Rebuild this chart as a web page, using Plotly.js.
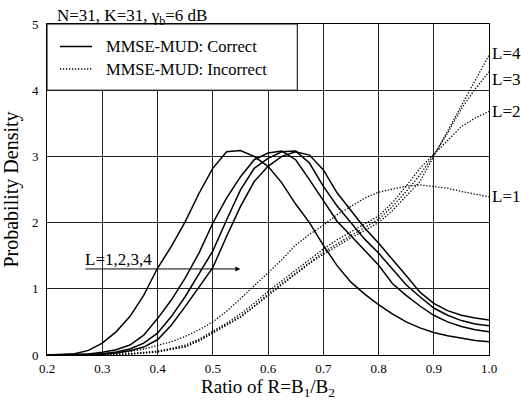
<!DOCTYPE html>
<html><head><meta charset="utf-8">
<script src="https://cdn.plot.ly/plotly-3.0.1.min.js"></script>
<style>html,body{margin:0;padding:0;background:#fff}</style>
</head><body><div id="chart" style="width:521px;height:401px"></div>
<script>
const ratio = [0.2,0.225,0.25,0.275,0.3,0.325,0.35,0.375,0.4,0.425,0.45,0.475,0.5,0.525,0.55,0.575,0.6,0.625,0.65,0.675,0.7,0.725,0.75,0.775,0.8,0.825,0.85,0.875,0.9,0.925,0.95,0.975,1.0];

const correctL1 = [0.00,0.005,0.02,0.07,0.18,0.35,0.58,0.90,1.31,1.64,2.01,2.44,2.82,3.07,3.09,3.00,2.85,2.60,2.28,2.00,1.66,1.35,1.10,0.92,0.76,0.62,0.50,0.41,0.34,0.29,0.25,0.22,0.20];
const correctL2 = [0.00,0.00,0.005,0.015,0.04,0.08,0.15,0.30,0.55,0.83,1.16,1.54,1.99,2.37,2.69,2.95,3.05,3.08,2.95,2.65,2.34,2.02,1.80,1.58,1.36,1.08,0.90,0.74,0.60,0.50,0.43,0.38,0.35];
const correctL3 = [0.00,0.00,0.003,0.01,0.02,0.045,0.09,0.18,0.33,0.58,0.88,1.23,1.57,2.04,2.49,2.82,2.97,3.07,3.08,2.90,2.55,2.25,2.00,1.75,1.54,1.30,1.06,0.88,0.71,0.60,0.52,0.47,0.44];
const correctL4 = [0.00,0.00,0.002,0.006,0.012,0.03,0.065,0.12,0.23,0.45,0.73,1.03,1.32,1.79,2.24,2.62,2.85,3.00,3.07,3.02,2.80,2.45,2.18,1.92,1.69,1.45,1.20,0.95,0.78,0.67,0.60,0.56,0.53];

const incorrectL1 = [0.00,0.00,0.00,0.005,0.01,0.03,0.05,0.09,0.14,0.20,0.28,0.38,0.50,0.66,0.85,1.04,1.24,1.44,1.66,1.82,1.96,2.12,2.25,2.37,2.46,2.51,2.55,2.57,2.55,2.52,2.47,2.43,2.39];
const incorrectL2 = [0.00,0.00,0.00,0.002,0.005,0.01,0.02,0.04,0.06,0.10,0.15,0.24,0.36,0.48,0.62,0.78,0.96,1.12,1.28,1.44,1.60,1.74,1.86,1.98,2.10,2.30,2.55,2.82,3.03,3.25,3.45,3.58,3.68];
const incorrectL3 = [0.00,0.00,0.00,0.002,0.004,0.008,0.016,0.03,0.05,0.09,0.13,0.22,0.34,0.46,0.58,0.74,0.92,1.08,1.24,1.40,1.55,1.68,1.80,1.92,2.05,2.24,2.47,2.72,3.02,3.35,3.72,4.02,4.28];
const incorrectL4 = [0.00,0.00,0.00,0.002,0.004,0.008,0.015,0.028,0.045,0.085,0.12,0.21,0.33,0.45,0.57,0.73,0.90,1.06,1.22,1.38,1.52,1.65,1.77,1.88,2.00,2.18,2.40,2.62,3.00,3.38,3.78,4.15,4.53];

const seriesLabels = ['L=1','L=2','L=3','L=4'];
const legendNames = ['MMSE-MUD: Correct','MMSE-MUD: Incorrect'];
const xTickVals = [0.2,0.3,0.4,0.5,0.6,0.7,0.8,0.9,1.0];
const xTickText = ['0.2','0.3','0.4','0.5','0.6','0.7','0.8','0.9','1.0'];
const yTickVals = [0,1,2,3,4,5];
const yTickText = ['0','1','2','3','4','5'];

const FONT = 'Liberation Serif';
const correctSets = [correctL1, correctL2, correctL3, correctL4];
const incorrectSets = [incorrectL1, incorrectL2, incorrectL3, incorrectL4];

const traces = [];
correctSets.forEach((ys, i) => traces.push({
  x: ratio, y: ys, type: 'scatter', mode: 'lines', name: legendNames[0] + ' ' + seriesLabels[i],
  showlegend: false, line: {color: '#000', width: 1.5}, hoverinfo: 'skip'
}));
incorrectSets.forEach((ys, i) => traces.push({
  x: ratio, y: ys, type: 'scatter', mode: 'lines', name: legendNames[1] + ' ' + seriesLabels[i],
  showlegend: false, line: {color: '#000', width: 1.3, dash: '1.3px,1.7px'}, hoverinfo: 'skip'
}));

const labelShift = [0, 0, -8, 2];
const annotations = incorrectSets.map((ys, i) => ({
  x: ratio[ratio.length - 1], y: ys[ys.length - 1], xref: 'x', yref: 'y',
  text: seriesLabels[i], showarrow: false, xanchor: 'left', yanchor: 'middle',
  xshift: 1, yshift: labelShift[i], font: {family: FONT, size: 17, color: '#000'}
}));
annotations.push({
  x: 0.55, y: 1.30, ax: 0.267, ay: 1.30, axref: 'x', ayref: 'y', xref: 'x', yref: 'y',
  text: '', showarrow: true, arrowhead: 2, arrowsize: 1, arrowwidth: 1, arrowcolor: '#000', standoff: 0, startstandoff: 0
});
annotations.push({
  x: 0.265, y: 1.45, xref: 'x', yref: 'y', text: 'L=1,2,3,4', showarrow: false,
  xanchor: 'left', yanchor: 'middle', font: {family: FONT, size: 17, color: '#000'}
});
annotations.push({
  x: 0.3033, y: 4.66, xref: 'x', yref: 'y', text: legendNames[0], showarrow: false,
  xanchor: 'left', yanchor: 'middle', font: {family: FONT, size: 16.5, color: '#000'}
});
annotations.push({
  x: 0.3033, y: 4.32, xref: 'x', yref: 'y', text: legendNames[1], showarrow: false,
  xanchor: 'left', yanchor: 'middle', font: {family: FONT, size: 16.5, color: '#000'}
});

const shapes = [
  {type: 'rect', xref: 'x', yref: 'y', x0: 0.2, x1: 0.653, y0: 4, y1: 5, fillcolor: '#fff', line: {color: '#000', width: 1}, layer: 'above'},
  {type: 'line', xref: 'x', yref: 'y', x0: 0.2235, x1: 0.2815, y0: 4.66, y1: 4.66, line: {color: '#000', width: 1.5}, layer: 'above'},
  {type: 'line', xref: 'x', yref: 'y', x0: 0.2235, x1: 0.2815, y0: 4.32, y1: 4.32, line: {color: '#000', width: 1.3, dash: '1.3px,1.7px'}, layer: 'above'}
];

const layout = {
  width: 521, height: 401,
  margin: {l: 47, r: 32, t: 24, b: 46, pad: 0},
  paper_bgcolor: '#fff', plot_bgcolor: '#fff',
  font: {family: FONT, color: '#000'},
  showlegend: false,
  title: {text: 'N=31, K=31, γ<sub>b</sub>=6 dB', x: 57/521, xref: 'container', xanchor: 'left',
          y: 1 - 15/401, yref: 'container', yanchor: 'middle', font: {family: FONT, size: 17, color: '#000'}},
  xaxis: {
    range: [0.2, 1.0], tickvals: xTickVals, ticktext: xTickText, ticks: '', ticklabelstandoff: 1,
    showgrid: true, gridcolor: '#222', gridwidth: 1, zeroline: false,
    showline: true, mirror: true, linecolor: '#000', linewidth: 1,
    tickfont: {family: FONT, size: 13, color: '#000'},
    title: {text: 'Ratio of R=B<sub>1</sub>/B<sub>2</sub>', standoff: 4, font: {family: FONT, size: 19, color: '#000'}}
  },
  yaxis: {
    range: [0, 5], tickvals: yTickVals, ticktext: yTickText, ticks: '', ticklabelstandoff: 5,
    showgrid: true, gridcolor: '#222', gridwidth: 1, zeroline: false,
    showline: true, mirror: true, linecolor: '#000', linewidth: 1,
    tickfont: {family: FONT, size: 13, color: '#000'},
    title: {text: 'Probability Density', standoff: 8, font: {family: FONT, size: 20, color: '#000'}}
  },
  annotations: annotations,
  shapes: shapes
};

Plotly.newPlot('chart', traces, layout, {staticPlot: true, displayModeBar: false});
</script></body></html>
